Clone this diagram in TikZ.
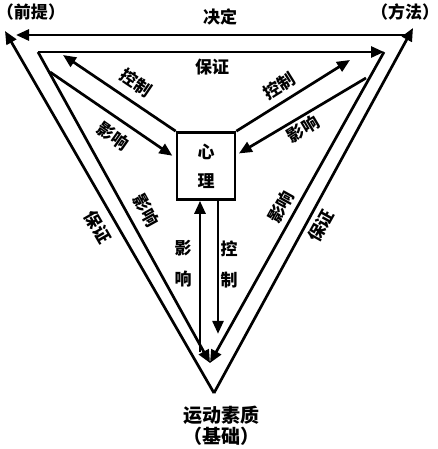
\documentclass[tikz,border=0pt]{standalone}
\usepackage{fontspec}
\usepackage{tikz}
\usetikzlibrary{arrows.meta, positioning, calc}
\newfontfamily\cjk{Noto Sans CJK SC}
\definecolor{ink}{RGB}{0,0,0}
\tikzset{
  edgeLine/.style={draw=ink, line width=2.7pt},
  flow/.style={edgeLine, -{Triangle[length=13pt,width=11pt]}},
  core/.style={
    draw=ink,
    line width=2.7pt,
    minimum width=58pt,
    minimum height=67pt,
    inner sep=0pt,
    align=center,
    font=\cjk\bfseries\fontsize{17}{29}\selectfont
  },
  tag/.style={font=\cjk\bfseries\fontsize{17}{20}\selectfont, inner sep=0pt},
  stackTag/.style={tag, align=center, font=\cjk\bfseries\fontsize{17}{31}\selectfont},
  pole/.style={font=\cjk\bfseries\fontsize{17}{21}\selectfont, inner sep=0pt, align=center},
  basePole/.style={pole, font=\cjk\bfseries\fontsize{19}{21}\selectfont}
}

\begin{document}
\begin{tikzpicture}[x=1pt, y=-1pt]
  \useasboundingbox (0,0) rectangle (438,449);

  \coordinate (premise) at (5,31);
  \coordinate (method) at (413,28);
  \coordinate (basis) at (214,393);
  \coordinate (decideFrom) at (405,35);
  \coordinate (decideTo) at (16,35);
  \coordinate (premiseIn) at (38,52);
  \coordinate (methodIn) at (384,52);
  \coordinate (basisIn) at (210,363);
  \coordinate (ctrlPremise) at (63,55);
  \coordinate (ctrlMethod) at (350,60);
  \coordinate (infPremise) at (50,72);
  \coordinate (infMethod) at (366,78);
  \coordinate (infBasis) at (200,352);

  \node[core] (psyche) at (206,166) {心\\理};

  \node[pole] (premiseTag) at (31,12) {（前提）};
  \node[pole] (methodTag) at (405,12) {（方法）};
  \node[basePole] (basisTag) at (221,426) {运动素质\\（基础）};

  \draw[flow] (decideFrom) -- (decideTo);
  \draw[flow] (basis) -- (premise);
  \draw[flow] (basis) -- (method);
  \draw[flow] (premiseIn) -- (methodIn);
  \draw[flow] (premiseIn) -- (basisIn);
  \draw[flow] (methodIn) -- (basisIn);

  \draw[flow] (psyche.north west) -- (ctrlPremise);
  \draw[flow, shorten >=4pt] (infPremise) -- ([yshift=8pt]psyche.west);
  \draw[flow] (psyche.north east) -- (ctrlMethod);
  \draw[flow, shorten >=3pt] (infMethod) -- ([yshift=11pt]psyche.east);
  \draw[flow] (infBasis) -- ([xshift=-6pt]psyche.south);
  \draw[flow] ([xshift=12pt]psyche.south) -- ++(0,133);

  \node[tag] (decideTag) at (220,17) {决定};
  \node[tag] (ensureTop) at (212,67) {保证};
  \node[tag, rotate=-60] (ensureLeft) at (98,227) {保证};
  \node[tag, rotate=61] (ensureRight) at (321,226) {保证};
  \node[tag, rotate=-61] (influenceLeft) at (146,210) {影响};
  \node[tag, rotate=61] (influenceRight) at (281,207) {影响};
  \node[tag, rotate=-34] (ctrlPremiseTag) at (136,83) {控制};
  \node[tag, rotate=-35] (infPremiseTag) at (113,136) {影响};
  \node[tag, rotate=32] (ctrlMethodTag) at (279,86) {控制};
  \node[tag, rotate=31] (infMethodTag) at (303,129) {影响};
  \node[stackTag] (infBasisTag) at (183,264) {影\\响};
  \node[stackTag] (ctrlBasisTag) at (229,264) {控\\制};
\end{tikzpicture}
\end{document}
